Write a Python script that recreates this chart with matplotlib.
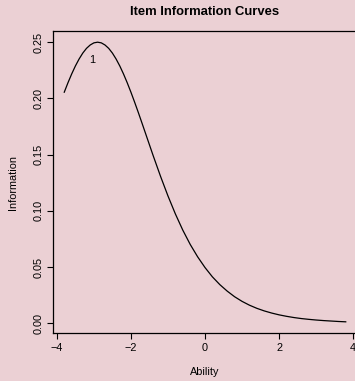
import matplotlib
matplotlib.use("Agg")
from matplotlib import pyplot as plt

# ability grid and item information
ability = [-3.8, -3.7, -3.6, -3.5, -3.4, -3.3, -3.2, -3.1, -3.0, -2.9,
           -2.8, -2.7, -2.6, -2.5, -2.4, -2.3, -2.2, -2.1, -2.0, -1.9,
           -1.8, -1.7, -1.6, -1.5, -1.4, -1.2, -1.0, -0.8, -0.6, -0.4,
           -0.2, 0.0, 0.2, 0.4, 0.6, 0.8, 1.0, 1.2, 1.4, 1.6,
           1.8, 2.0, 2.2, 2.4, 2.6, 2.8, 3.0, 3.2, 3.4, 3.6, 3.8]
information = [0.2055, 0.2139, 0.2217, 0.2288, 0.2350, 0.2403, 0.2445, 0.2475, 0.2494, 0.2500,
               0.2494, 0.2475, 0.2445, 0.2403, 0.2350, 0.2288, 0.2217, 0.2139, 0.2055, 0.1966,
               0.1874, 0.1779, 0.1683, 0.1587, 0.1491, 0.1306, 0.1132, 0.0972, 0.0828, 0.0701,
               0.0591, 0.0495, 0.0412, 0.0343, 0.0285, 0.0235, 0.0194, 0.0160, 0.0132, 0.0109,
               0.0090, 0.0074, 0.0061, 0.0050, 0.0041, 0.0034, 0.0028, 0.0023, 0.0019, 0.0015, 0.0012]
item_label = "1"
item_label_pos = (-3.05, 0.234)

xticks = [-4, -2, 0, 2, 4]
yticks = [0.00, 0.05, 0.10, 0.15, 0.20, 0.25]

BG = "#ebd0d4"
plt.rcParams["font.family"] = ["Liberation Sans", "DejaVu Sans"]

W, H = 355, 381
fig = plt.figure(figsize=(W / 100, H / 100), dpi=100, facecolor=BG)
ax = fig.add_axes([53 / W, (H - 333) / H, (357 - 53) / W, (333 - 31) / H])
ax.set_facecolor(BG)

ax.plot(ability, information, color="black", lw=0.9)
ax.text(item_label_pos[0], item_label_pos[1], item_label,
        ha="center", va="center", fontsize=7.8)

# R style: 4% padding round the data
xr = ability[-1] - ability[0]
yr = max(information) - min(information)
ax.set_xlim(ability[0] - 0.04 * xr, ability[-1] + 0.04 * xr)
ax.set_ylim(min(information) - 0.04 * yr, max(information) + 0.04 * yr)

ax.set_xticks(xticks)
ax.set_xticklabels(["\u22124", "\u22122", "0", "2", "4"])
ax.set_yticks(yticks)
ax.set_yticklabels(["%.2f" % v for v in yticks], rotation=90, va="center")
ax.tick_params(direction="out", length=4, width=0.8, labelsize=7.8, pad=3)

for s in ax.spines.values():
    s.set_linewidth(0.9)

ax.set_xlabel("Ability", fontsize=7.8, labelpad=10)
ax.set_ylabel("Information", fontsize=7.8, labelpad=11)
fig.text(205 / W, 1 - 12 / H, "Item Information Curves",
         ha="center", va="center", fontsize=9.4, fontweight="bold")

fig.savefig("out.png", dpi=100, facecolor=BG)
